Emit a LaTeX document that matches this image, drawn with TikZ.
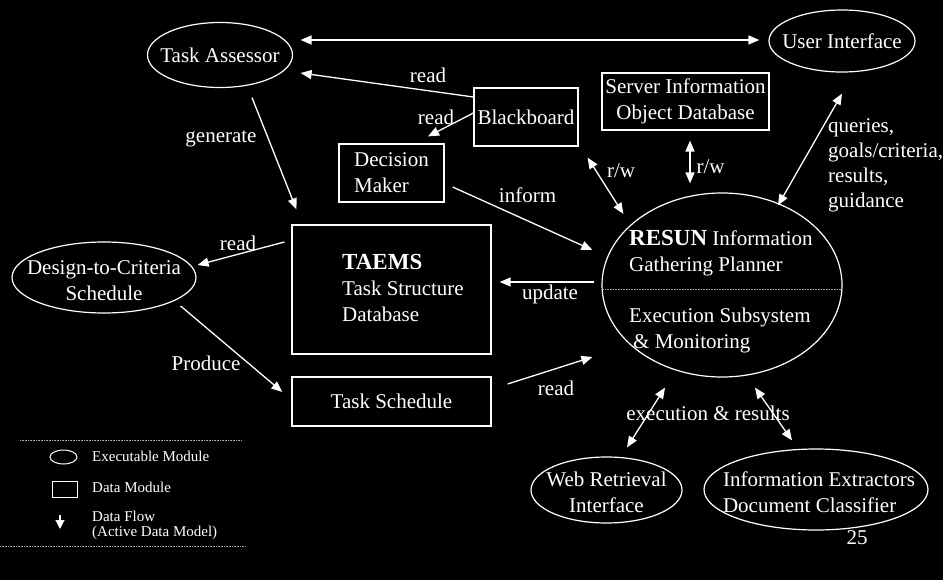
\documentclass[tikz,border=0pt]{standalone}
\usepackage{fontspec}
\setmainfont{Liberation Serif}
\usetikzlibrary{arrows.meta,shapes.geometric}
\newcommand{\mainfs}{\fontsize{21}{26}\selectfont}
\newcommand{\bigbf}{\fontsize{23}{26}\selectfont\bfseries}
\newcommand{\legendfs}{\fontsize{15}{15}\selectfont}
\begin{document}
\begin{tikzpicture}[x=1pt,y=-1pt,
  every node/.style={text=white, font=\mainfs},
  module/.style={draw=white, line width=1.2pt, ellipse, inner sep=0pt},
  datamod/.style={draw=white, line width=1.2pt, rectangle, inner sep=0pt},
  tip/.tip={Triangle[length=11pt,width=9pt]},
  flow/.style={draw=white, line width=1.3pt, -tip},
  bflow/.style={draw=white, line width=1.3pt, tip-tip},
  lbl/.style={inner sep=0pt},
  legendtxt/.style={inner sep=0pt, font=\legendfs},
  sep/.style={draw=gray!70, densely dotted, line width=0.6pt}]

% page
\fill[black] (0,0) rectangle (943,580);
\useasboundingbox (0,0) rectangle (943,580);

% executable modules
\node[module, minimum width=145, minimum height=65,
      label={center:Task Assessor}] (ta) at (220,55) {};
\node[module, minimum width=146, minimum height=62,
      label={center:User Interface}] (ui) at (842,41) {};
\node[module, minimum width=184, minimum height=71,
      label={[align=center, yshift=-3pt]center:Design-to-Criteria\\Schedule}] (dtc) at (104,277.5) {};
\node[module, minimum width=240, minimum height=184] (resun) at (722,285) {};
\node[module, minimum width=151, minimum height=66,
      label={[align=center, yshift=-2pt]center:Web Retrieval\\Interface}] (web) at (606.5,490) {};
\node[module, minimum width=224, minimum height=81,
      label={[align=left, xshift=3pt, yshift=-3pt]center:Information Extractors\\Document Classifier}] (ie) at (816,489.5) {};

% planner contents
\node[lbl, align=left, anchor=west] (resunPlan) at (629,253)
  {{\bigbf RESUN} Information\\Gathering Planner};
\node[lbl, align=left, anchor=west] (resunExec) at (629,330)
  {Execution Subsystem\\\hspace*{4pt}\& Monitoring};
\draw[sep] ([shift={(2,4)}]resun.west) -- ([shift={(-2,4)}]resun.east);

% data modules
\node[datamod, minimum width=104, minimum height=58] (bb) at (526,117) {Blackboard};
\node[datamod, minimum width=167, minimum height=57, align=center] (srv) at (685.5,101.5)
  {Server Information\\Object Database};
\node[datamod, minimum width=105, minimum height=58, align=left] (dm) at (391.5,173)
  {Decision\\Maker};
\node[datamod, minimum width=199, minimum height=129] (taems) at (391.5,289.5) {};
\node[lbl, align=left, anchor=west] (taemsText) at (342,287.5)
  {{\bigbf TAEMS}\\Task Structure\\Database};
\node[datamod, minimum width=199, minimum height=49] (ts) at (391.5,401.5) {Task Schedule};

% data flows
\draw[bflow] ([shift={(7.5,-15)}]ta.east) -- ([shift={(-9,-1)}]ui.west);
\draw[flow] ([shift={(0,-20)}]bb.west) -- ([shift={(7.5,18)}]ta.east);
\draw[flow] ([shift={(0,-4)}]bb.west) -- ([shift={(36.5,-7)}]dm.north);
\draw[flow] ([shift={(32,9.5)}]ta.south) -- ([shift={(5,-15)}]taems.north west);
\draw[flow] ([shift={(8,14)}]dm.east) -- ([shift={(-9,-35)}]resun.west);
\draw[bflow] ([shift={(9,11)}]bb.south east) -- ([shift={(22,-71)}]resun.west);
\draw[bflow] ([shift={(4.5,10)}]srv.south) -- ([shift={(-32,-9)}]resun.north);
\draw[bflow] ([shift={(0,21)}]ui.south) -- ([shift={(56,13)}]resun.north);
\draw[flow] ([shift={(-7,-3)}]resun.west) -- ([shift={(8,-7.5)}]taems.east);
\draw[flow] ([shift={(-7,-47.5)}]taems.west) -- ([shift={(1,-12.5)}]dtc.east);
\draw[flow] ([shift={(-16,28.5)}]dtc.east) -- ([shift={(-9,-9.5)}]ts.west);
\draw[flow] ([shift={(16,-17.5)}]ts.east) -- ([shift={(-9,72)}]resun.west);
\draw[bflow] ([shift={(-57,10)}]resun.south) -- ([shift={(20.5,-9)}]web.north);
\draw[bflow] ([shift={(33,10)}]resun.south) -- ([shift={(-24,-8)}]ie.north);

% flow labels
\node[lbl] (lRead1) at (428,75) {read};
\node[lbl] (lRead2) at (436,117) {read};
\node[lbl] (lGen) at (221,139) {generate};
\node[lbl] (lInform) at (527.5,195) {inform};
\node[lbl] (lRw1) at (621,171) {r/w};
\node[lbl] (lRw2) at (710.5,167) {r/w};
\node[lbl, align=left, anchor=west, font=\fontsize{21}{25}\selectfont] (lQueries) at (828,165)
  {queries,\\goals/criteria,\\results,\\guidance};
\node[lbl] (lUpdate) at (550,294) {update};
\node[lbl] (lRead3) at (238,243) {read};
\node[lbl] (lProduce) at (206,363) {Produce};
\node[lbl] (lRead4) at (556,388) {read};
\node[lbl] (lExec) at (708,413) {execution \& results};
\node[lbl] (pageNum) at (857,538) {25};

% legend
\draw[sep] (20,440) -- (242,440);
\node[module, line width=1pt, minimum width=27, minimum height=14] (legExec) at (63.5,457) {};
\node[legendtxt, anchor=west] (legExecTxt) at (92,456) {Executable Module};
\node[datamod, line width=1pt, minimum width=25, minimum height=16] (legData) at (64.5,489) {};
\node[legendtxt, anchor=west] (legDataTxt) at (92,487) {Data Module};
\coordinate (legFlowTop) at (60,515);
\coordinate (legFlowBot) at (60,529);
\draw[draw=white, line width=1.2pt, -{Triangle[length=9pt,width=9pt]}] (legFlowTop) -- (legFlowBot);
\node[legendtxt, anchor=west, align=left] (legFlowTxt) at (92,525) {Data Flow\\(Active Data Model)};
\draw[sep] (0,546) -- (245,546);
\end{tikzpicture}
\end{document}
